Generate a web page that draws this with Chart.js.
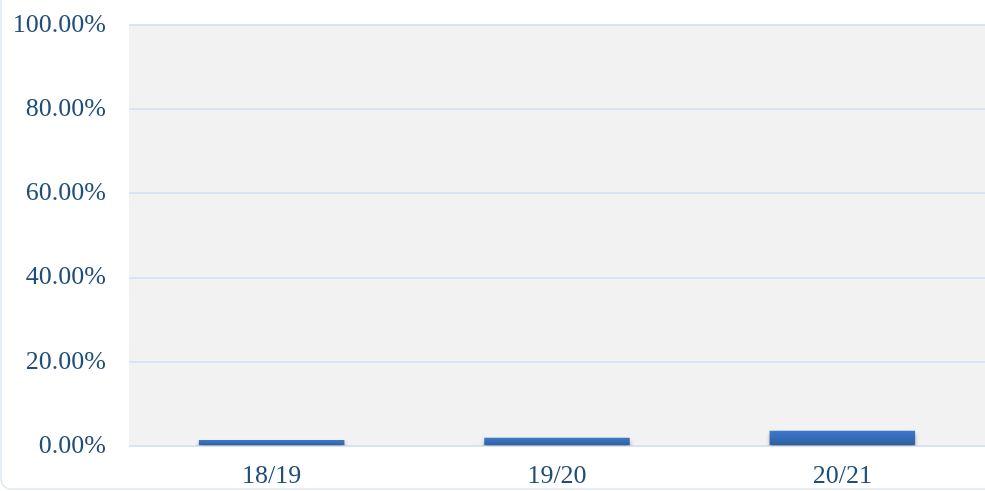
<!DOCTYPE html>
<html>
<head>
<meta charset="utf-8">
<script src="https://cdn.jsdelivr.net/npm/chart.js@4"></script>
<style>
    html, body { margin: 0; padding: 0; background: #ffffff; }
    #wrap { width: 985px; height: 491px; }
</style>
</head>
<body>
<div id="wrap"><canvas id="share-chart" width="985" height="491"></canvas></div>
<script>
// Season data
const seasons = ['18/19', '19/20', '20/21'];
const shareValues = [1.43, 1.97, 3.63];
const yTicks = [0, 20, 40, 60, 80, 100];

const labelColor = '#1F4E79';
const gridColor = '#d7e4f4';
const labelFont = { family: '"Liberation Serif", "Times New Roman", serif', size: 26, lineHeight: 1 };

// grey plot background + rounded frame on the left
const plotBackground = {
    id: 'plotBackground',
    beforeDraw(chart) {
        const { ctx, chartArea } = chart;
        ctx.save();
        ctx.strokeStyle = '#dde7f3';
        ctx.lineWidth = 1.5;
        ctx.beginPath();
        ctx.roundRect(1, -20, chart.width + 20, chart.height + 18, 10);
        ctx.stroke();
        ctx.fillStyle = '#f2f2f2';
        ctx.fillRect(chartArea.left, chartArea.top, chartArea.right - chartArea.left, chartArea.bottom - chartArea.top);
        ctx.restore();
    }
};

// soft shadow under the bars
const barShadow = {
    id: 'barShadow',
    beforeDatasetsDraw(chart) {
        const ctx = chart.ctx;
        ctx.save();
        ctx.shadowColor = 'rgba(0, 0, 0, 0.35)';
        ctx.shadowBlur = 4;
        ctx.shadowOffsetY = 3;
    },
    afterDatasetsDraw(chart) {
        chart.ctx.restore();
    }
};

function barGradient(context) {
    const chart = context.chart;
    const area = chart.chartArea;
    const yScale = chart.scales.y;
    if (!area || !yScale || context.dataIndex === undefined) return '#3870bb';
    const top = yScale.getPixelForValue(shareValues[context.dataIndex]);
    const base = yScale.getPixelForValue(0);
    if (!Number.isFinite(top) || !Number.isFinite(base) || top === base) return '#3870bb';
    const g = chart.ctx.createLinearGradient(0, top, 0, base);
    g.addColorStop(0, '#3c7acb');
    g.addColorStop(1, '#2e5d9f');
    return g;
}

new Chart(document.getElementById('share-chart').getContext('2d'), {
    type: 'bar',
    data: {
        labels: seasons,
        datasets: [{
            data: shareValues,
            backgroundColor: barGradient,
            borderWidth: 0,
            categoryPercentage: 1,
            barPercentage: 0.51
        }]
    },
    plugins: [plotBackground, barShadow],
    options: {
        responsive: false,
        animation: false,
        layout: { padding: { top: 25, right: 0, left: 0, bottom: 0 } },
        plugins: {
            legend: { display: false },
            tooltip: { enabled: false }
        },
        scales: {
            y: {
                min: 0,
                max: 100,
                afterFit: s => { s.width = 129; s.paddingTop = 0; },
                afterBuildTicks: s => { s.ticks = yTicks.map(v => ({ value: v })); },
                grid: { color: gridColor, lineWidth: 2, drawTicks: false },
                border: { display: false },
                ticks: {
                    color: labelColor,
                    padding: 23,
                    font: labelFont,
                    callback: v => v.toFixed(2) + '%'
                }
            },
            x: {
                afterFit: s => { s.height = 45; },
                grid: { display: false, drawTicks: false },
                border: { display: false },
                ticks: {
                    color: labelColor,
                    padding: 17,
                    font: labelFont
                }
            }
        }
    }
});
</script>
</body>
</html>
